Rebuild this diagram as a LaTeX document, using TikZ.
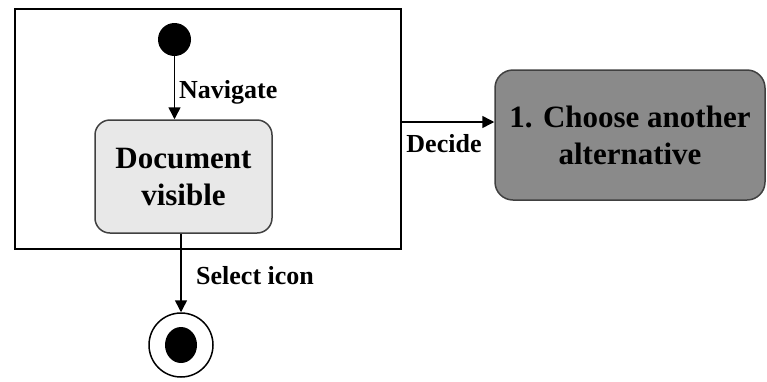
\documentclass[tikz,border=0pt]{standalone}
\usepackage{fontspec}
\setmainfont{Liberation Serif}
\usetikzlibrary{positioning,arrows.meta}
\tikzset{basic/.style={draw=black!75,line width=1.5pt,align=center,inner sep=0pt,font=\bfseries\fontsize{31}{37}\selectfont}}
\tikzset{state/.style={basic,rounded corners=15pt,fill=black!9,minimum width=177pt,minimum height=113pt}}
\tikzset{choice/.style={basic,rounded corners=18pt,fill=black!46,minimum width=270pt,minimum height=130pt}}
\tikzset{trans/.style={inner sep=0pt,font=\bfseries\fontsize{26}{30}\selectfont}}
\tikzset{flow/.style={line width=1.5pt,-{Triangle[length=12pt,width=12pt]}}}

\begin{document}
\begin{tikzpicture}[x=1pt,y=-1pt]
        \useasboundingbox (0,0) rectangle (767,381);
        \node[draw,line width=1.5pt,minimum width=386pt,minimum height=240pt,inner sep=0pt] (frame) at (208,129) {};
        \node[circle,fill,minimum size=33pt,inner sep=0pt] (start) at (174.5,39.5) {};
        \node[state] (doc) at (183.5,176.5) {Document\\visible};
        \node[choice] (alt) at (630,135) {1. Choose another\\alternative};
        \node[circle,draw,line width=1.5pt,minimum size=64pt,inner sep=0pt] (stop) at (181,345) {};
            \fill (stop.center) ellipse (16pt and 18pt);
        \coordinate (out) at (401,122);
            \path[draw,flow] (start) -- (start |- doc.north);
            \path[draw,flow] (doc.south -| stop) -- (stop.north);
            \path[draw,flow] (out) -- (out -| alt.west);
        \node[trans,anchor=west] (nav) at (179,92) {Navigate};
        \node[trans,anchor=west] (sel) at (196,276) {Select icon};
        \node[trans] (dec) at (444,144) {Decide};
    \end{tikzpicture}
\end{document}
